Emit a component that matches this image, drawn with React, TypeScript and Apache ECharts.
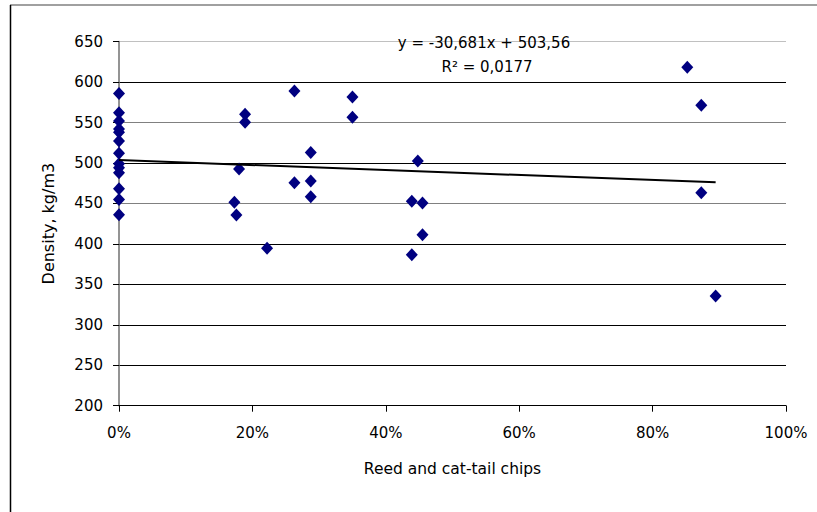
import React, { useEffect, useRef } from "react";
import * as echarts from "echarts";

// Reed and cat-tail chips share (fraction) vs density (kg/m3)
const chipShare = [
  0, 0, 0, 0, 0, 0, 0, 0, 0, 0, 0, 0, 0,
  0.18, 0.173, 0.176, 0.189, 0.189, 0.222, 0.263, 0.263, 0.2875, 0.2875, 0.2875,
  0.35, 0.35, 0.439, 0.439, 0.448, 0.455, 0.455, 0.852, 0.873, 0.873, 0.8945,
];
const density = [
  586, 562, 552, 542, 538, 527, 512, 499, 494, 488, 468, 455, 436,
  492.6, 451.4, 435.7, 560.2, 550.3, 394.5, 589, 475.7, 512.8, 477.7, 458.4,
  581.6, 556.5, 452.6, 386.7, 502.5, 450.5, 411.4, 618.3, 571.3, 463.3, 335.6,
];
// Linear trend line end points (y = -30,681x + 503,56)
const trendX = [0, 0.8945];
const trendY = [503.56, 476.12];
const equationText = "y = -30,681x + 503,56";
const r2Text = "R² = 0,0177";
const yTicks = { min: 200, max: 650, interval: 50 };
const xTicks = { min: 0, max: 1, interval: 0.2 };

const FONT = "DejaVu Sans";

export default function App() {
  const ref = useRef<HTMLDivElement>(null);
  useEffect(() => {
    if (!ref.current) return;
    const chart = echarts.init(ref.current, null, { renderer: "svg" });
    chart.setOption({
      animation: false,
      backgroundColor: "#fff",
      grid: { left: 119, right: 31, top: 41.6, bottom: 106.3, containLabel: false },
      xAxis: {
        type: "value",
        min: xTicks.min,
        max: xTicks.max,
        interval: xTicks.interval,
        name: "Reed and cat-tail chips",
        nameLocation: "middle",
        nameGap: 55,
        nameTextStyle: { fontFamily: FONT, fontSize: 15.5, color: "#000" },
        axisLine: { show: true, onZero: false, lineStyle: { color: "#000", width: 1 } },
        axisTick: { show: true, length: 6, lineStyle: { color: "#000" } },
        axisLabel: {
          margin: 20,
          fontFamily: FONT,
          fontSize: 15,
          color: "#000",
          formatter: (v: number) => `${Math.round(v * 100)}%`,
        },
        splitLine: { show: false },
      },
      yAxis: {
        type: "value",
        min: yTicks.min,
        max: yTicks.max,
        interval: yTicks.interval,
        name: "Density, kg/m3",
        nameLocation: "middle",
        nameGap: 63,
        nameTextStyle: { fontFamily: FONT, fontSize: 16, color: "#000" },
        axisLine: { show: true, onZero: false, lineStyle: { color: "#707070", width: 1.5 } },
        axisTick: { show: true, length: 6, lineStyle: { color: "#000" } },
        axisLabel: { margin: 16, fontFamily: FONT, fontSize: 15, color: "#000" },
        splitLine: {
          show: true,
          lineStyle: {
            width: 1,
            color: [
              "#000", "#000", "#000", "#000", "#000",
              "#808080", "#000", "#808080", "#000", "#c0c0c0",
            ],
          },
        },
      },
      series: [
        {
          type: "scatter",
          symbol: "diamond",
          symbolSize: [12, 13],
          itemStyle: { color: "#000080", opacity: 1 },
          data: chipShare.map((x, i) => [x, density[i]]),
          z: 3,
        },
        {
          type: "line",
          data: trendX.map((x, i) => [x, trendY[i]]),
          showSymbol: false,
          symbol: "none",
          lineStyle: { color: "#000", width: 2 },
          z: 4,
        },
      ],
      graphic: [
        {
          type: "line",
          shape: { x1: 10, y1: 5, x2: 817, y2: 5 },
          style: { stroke: "#808080", lineWidth: 1.5 },
        },
        {
          type: "line",
          shape: { x1: 10.5, y1: 5, x2: 10.5, y2: 512 },
          style: { stroke: "#000", lineWidth: 1.5 },
        },
        {
          type: "text",
          x: 484,
          y: 43,
          z: 10,
          style: {
            text: equationText,
            fontFamily: FONT,
            fontSize: 15,
            fill: "#000",
            align: "center",
            verticalAlign: "middle",
          },
        },
        {
          type: "text",
          x: 487,
          y: 67,
          z: 10,
          style: {
            text: r2Text,
            fontFamily: FONT,
            fontSize: 15,
            fill: "#000",
            align: "center",
            verticalAlign: "middle",
          },
        },
      ],
    });
    return () => chart.dispose();
  }, []);
  return (
    <div
      ref={ref}
      style={{ position: "fixed", left: 0, top: 0, width: 817, height: 512, background: "#fff" }}
    />
  );
}
